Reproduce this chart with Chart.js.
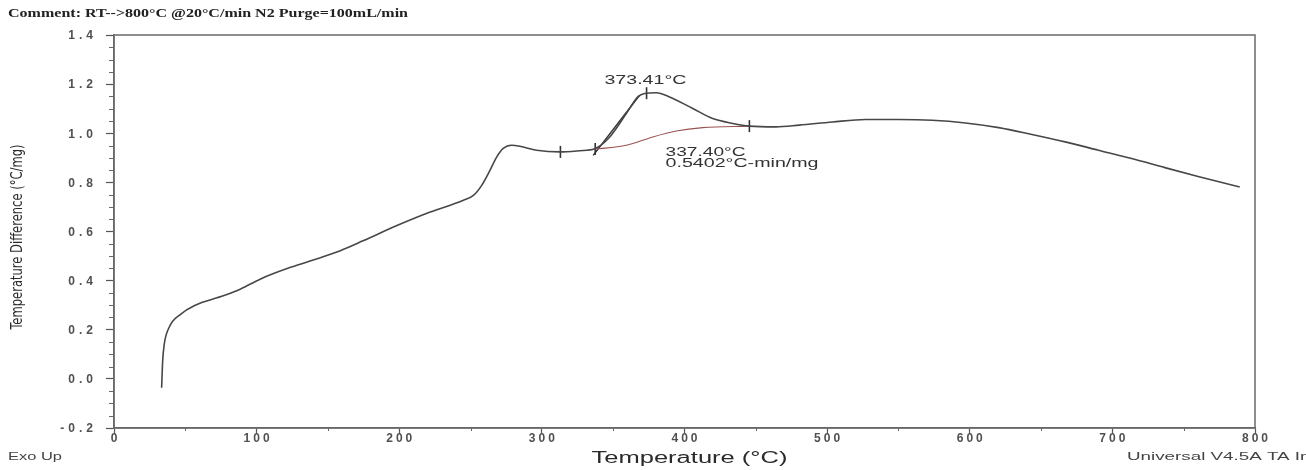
<!DOCTYPE html>
<html>
<head>
<meta charset="utf-8">
<script src="https://cdn.jsdelivr.net/npm/chart.js@4/dist/chart.umd.min.js"></script>
<style>
  html, body { margin: 0; padding: 0; background: #fff; }
</style>
</head>
<body>
<canvas id="main-chart" width="1306" height="470"></canvas>
<script>
// DTA trace (temperature in °C, difference in °C/mg)
const curveTemp = [33.4, 34.1, 35.2, 38.7, 46.9, 56.2, 77.1, 88.8, 102.8, 123.8, 142.4, 158.7,
  175, 198.4, 221.7, 245, 252, 257.8, 263.6, 268.3, 272.9, 278.8, 284.6, 296.3, 312.6, 326.6,
  337, 347.6, 359.2, 367.3, 372, 380.2, 389.5, 405.8, 419.8, 433.8, 445.5, 464.1, 480.4, 503.7,
  527, 550.3, 573.6, 597, 620.3, 643.6, 666.9, 690.2, 713.5, 736.8, 760.1, 789.3];
const curveDiff = [-0.036, 0.07, 0.14, 0.21, 0.264, 0.298, 0.339, 0.366, 0.407, 0.454, 0.489, 0.522,
  0.563, 0.624, 0.679, 0.727, 0.747, 0.788, 0.849, 0.903, 0.938, 0.951, 0.947, 0.931, 0.924, 0.929,
  0.937, 0.985, 1.08, 1.148, 1.162, 1.165, 1.148, 1.101, 1.06, 1.04, 1.029, 1.026, 1.033, 1.046,
  1.056, 1.056, 1.053, 1.042, 1.023, 0.995, 0.965, 0.931, 0.897, 0.86, 0.824, 0.781];

// Integration baseline under the peak
const baseTemp = [337, 359.2, 377.8, 394.2, 412.8, 445.5];
const baseDiff = [0.935, 0.951, 0.985, 1.009, 1.023, 1.029];

// Onset tangent
const tangentTemp = [336, 368.5];
const tangentDiff = [0.91, 1.155];

// Small limit marks on the trace
const markTemp = [313, 337.4, 373.4, 445.5];
const markDiff = [0.924, 0.936, 1.163, 1.029];

// Tick labels
const xTicks = [0, 100, 200, 300, 400, 500, 600, 700, 800];
const yTicks = [-0.2, 0.0, 0.2, 0.4, 0.6, 0.8, 1.0, 1.2, 1.4];

// Annotation texts and where they sit (data units)
const peakLabel = "373.41°C";
const onsetLabel = "337.40°C";
const areaLabel = "0.5402°C-min/mg";
const peakLabelAt = [372.6, 1.216];
const onsetLabelAt = [386.7, 0.922];
const areaLabelAt = [386.7, 0.876];

function toPoints(xs, ys) {
  return xs.map((x, i) => ({ x: x, y: ys[i] }));
}

// Stretch a string horizontally so it covers the given width
function fillFitted(ctx, text, x, y, width, measureText) {
  const w = ctx.measureText(measureText || text).width;
  ctx.save();
  ctx.translate(x, y);
  ctx.scale(width / w, 1);
  ctx.fillText(text, 0, 0);
  ctx.restore();
}

// Frame, minor ticks, tick labels and loose texts
const decorations = {
  id: "decorations",
  afterDraw(chart) {
    const { ctx, chartArea: a, scales: { x, y } } = chart;
    ctx.save();

    // Box round the plot
    ctx.strokeStyle = "#6a6a6a";
    ctx.lineWidth = 1.5;
    ctx.strokeRect(a.left, a.top, a.right - a.left, a.bottom - a.top);

    // Minor ticks
    ctx.strokeStyle = "#666";
    ctx.lineWidth = 1;
    ctx.beginPath();
    for (let i = 0; i < yTicks.length - 1; i++) {
      const step = (yTicks[i + 1] - yTicks[i]) / 4;
      for (let k = 1; k < 4; k++) {
        const py = Math.round(y.getPixelForValue(yTicks[i] + k * step)) + 0.5;
        ctx.moveTo(a.left - 5, py);
        ctx.lineTo(a.left, py);
      }
    }
    for (let i = 0; i < xTicks.length - 1; i++) {
      const px = Math.round(x.getPixelForValue((xTicks[i] + xTicks[i + 1]) / 2)) + 0.5;
      ctx.moveTo(px, a.bottom);
      ctx.lineTo(px, a.bottom + 3);
    }
    ctx.stroke();

    // Tick labels
    ctx.fillStyle = "#505050";
    ctx.font = "bold 12px 'Liberation Sans', Arial, sans-serif";
    ctx.letterSpacing = "4px";
    ctx.textAlign = "right";
    ctx.textBaseline = "middle";
    yTicks.forEach((v) => {
      ctx.fillText(v.toFixed(1), a.left - 17, y.getPixelForValue(v) + 1);
    });
    ctx.letterSpacing = "3px";
    ctx.textAlign = "center";
    ctx.textBaseline = "top";
    xTicks.forEach((v) => {
      ctx.fillText(String(v), x.getPixelForValue(v) + 1.5, a.bottom + 5);
    });
    ctx.letterSpacing = "0px";

    // Peak annotations
    ctx.fillStyle = "#333";
    ctx.font = "12px 'Liberation Sans', Arial, sans-serif";
    ctx.textBaseline = "middle";
    ctx.textAlign = "center";
    fillFitted(ctx, peakLabel, x.getPixelForValue(peakLabelAt[0]), y.getPixelForValue(peakLabelAt[1]), 82);
    ctx.textAlign = "left";
    fillFitted(ctx, onsetLabel, x.getPixelForValue(onsetLabelAt[0]), y.getPixelForValue(onsetLabelAt[1]), 80);
    fillFitted(ctx, areaLabel, x.getPixelForValue(areaLabelAt[0]), y.getPixelForValue(areaLabelAt[1]), 153);

    // Axis titles
    ctx.fillStyle = "#2a2a2a";
    ctx.textAlign = "center";
    ctx.font = "16px 'Liberation Sans', Arial, sans-serif";
    fillFitted(ctx, "Temperature (°C)", (a.left + a.right) / 2 + 5, 459, 196);
    ctx.save();
    ctx.translate(18, 237);
    ctx.rotate(-Math.PI / 2);
    ctx.font = "16px 'Liberation Sans Narrow', 'DejaVu Sans Condensed', sans-serif";
    fillFitted(ctx, "Temperature Difference (°C/mg)", 0, 0, 185);
    ctx.restore();

    // Header and footer texts
    ctx.fillStyle = "#222";
    ctx.textAlign = "left";
    ctx.font = "bold 12px 'Liberation Serif', 'Times New Roman', serif";
    fillFitted(ctx, "Comment: RT-->800°C @20°C/min N2 Purge=100mL/min", 8, 14, 400);
    ctx.fillStyle = "#444";
    ctx.font = "10px 'Liberation Sans', Arial, sans-serif";
    fillFitted(ctx, "Exo Up", 8, 457, 54);
    fillFitted(ctx, "Universal V4.5A TA Instruments", 1127, 457, 173, "Universal V4.5A TA I");

    ctx.restore();
  },
};

const chartCtx = document.getElementById("main-chart").getContext("2d");

const dtaChart = new Chart(chartCtx, {
  type: "scatter",
  data: {
    datasets: [
      {
        label: "DTA",
        data: toPoints(curveTemp, curveDiff),
        showLine: true,
        borderColor: "#474747",
        borderWidth: 1.6,
        pointRadius: 0,
        cubicInterpolationMode: "monotone",
      },
      {
        label: "Baseline",
        data: toPoints(baseTemp, baseDiff),
        showLine: true,
        borderColor: "#9a5252",
        borderWidth: 1.1,
        pointRadius: 0,
        cubicInterpolationMode: "monotone",
      },
      {
        label: "Onset tangent",
        data: toPoints(tangentTemp, tangentDiff),
        showLine: true,
        borderColor: "#333",
        borderWidth: 1.5,
        pointRadius: 0,
      },
      {
        label: "Marks",
        data: toPoints(markTemp, markDiff),
        showLine: false,
        pointStyle: "line",
        rotation: 90,
        pointRadius: 6,
        borderColor: "#333",
        borderWidth: 1.6,
      },
    ],
  },
  options: {
    responsive: false,
    animation: false,
    devicePixelRatio: 1,
    layout: { padding: { top: 35, right: 51, left: 0, bottom: 0 } },
    plugins: {
      legend: { display: false },
      tooltip: { enabled: false },
    },
    scales: {
      x: {
        type: "linear",
        min: 0,
        max: 800,
        afterFit: (s) => { s.height = 42; },
        afterBuildTicks: (s) => { s.ticks = xTicks.map((v) => ({ value: v })); },
        ticks: { display: false },
        grid: { drawOnChartArea: false, tickLength: 5, tickColor: "#555", tickWidth: 1.2 },
        border: { color: "#666", width: 1.5 },
      },
      y: {
        type: "linear",
        min: -0.2,
        max: 1.4,
        afterFit: (s) => { s.width = 114; },
        afterBuildTicks: (s) => { s.ticks = yTicks.map((v) => ({ value: v })); },
        ticks: { display: false },
        grid: { drawOnChartArea: false, tickLength: 8, tickColor: "#555", tickWidth: 1.2 },
        border: { color: "#666", width: 1.5 },
      },
    },
  },
  plugins: [decorations],
});
</script>
</body>
</html>
